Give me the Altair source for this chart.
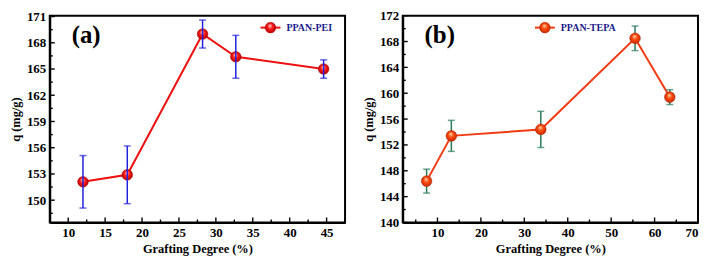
import altair as alt
import pandas as pd

# ---------------- data ----------------
a_gd = [12.0, 18.0, 28.2, 32.7, 44.6]
a_q = [152.1, 152.9, 169.0, 166.4, 165.0]
a_err = [3.0, 3.3, 1.6, 2.45, 1.05]

b_gd = [7.5, 13.2, 33.8, 55.5, 63.5]
b_q = [146.4, 153.4, 154.4, 168.5, 159.4]
b_err = [1.85, 2.4, 2.8, 1.9, 1.15]

series_names = ["PPAN-PEI", "PPAN-TEPA"]
panel_labels = ["(a)", "(b)"]

a_x_major = [10, 15, 20, 25, 30, 35, 40, 45]
a_x_minor = [7.5, 12.5, 17.5, 22.5, 27.5, 32.5, 37.5, 42.5, 47.5]
a_y_major = [150, 153, 156, 159, 162, 165, 168, 171]
a_y_minor = [148.5, 151.5, 154.5, 157.5, 160.5, 163.5, 166.5, 169.5]

b_x_major = [10, 20, 30, 40, 50, 60, 70]
b_x_minor = [5, 15, 25, 35, 45, 55, 65]
b_y_major = [140, 144, 148, 152, 156, 160, 164, 168, 172]
b_y_minor = [142, 146, 150, 154, 158, 162, 166, 170]

x_title = "Grafting Degree (%)"
y_title = "q (mg/g)"

FONT = "Liberation Serif"
W = 297
H = 208


def sphere(c_hi, c_mid, c_lo):
    return alt.Gradient(
        gradient="radial",
        stops=[
            alt.GradientStop(color=c_hi, offset=0),
            alt.GradientStop(color=c_mid, offset=0.45),
            alt.GradientStop(color=c_lo, offset=1),
        ],
        x1=0.45, y1=0.3, r1=0.0, x2=0.5, y2=0.5, r2=0.55,
    )


def panel(gd, q, err, xdom, ydom, xmaj, xmin, ymaj, ymin,
          line_col, grad, edge_col, err_col, err_on_top,
          name, label, leg_x, text_col):
    df = pd.DataFrame({"gd": gd, "q": q})
    df["lo"] = [v - e for v, e in zip(q, err)]
    df["hi"] = [v + e for v, e in zip(q, err)]

    xs = alt.Scale(domain=xdom, nice=False, zero=False)
    ys = alt.Scale(domain=ydom, nice=False, zero=False)
    xax = alt.Axis(values=xmaj, labelPadding=4, titlePadding=3,
                   labelFont=FONT, titleFont=FONT)
    yax = alt.Axis(values=ymaj, labelPadding=4, titlePadding=4,
                   labelFont=FONT, titleFont=FONT)

    def X(f):
        return alt.X(f, scale=xs, title=x_title, axis=xax)

    def Y(f):
        return alt.Y(f, scale=ys, title=y_title, axis=yax)

    base = alt.Chart(df)
    line = base.mark_line(color=line_col, strokeWidth=2).encode(
        x=X("gd:Q"), y=Y("q:Q"))
    pts = base.mark_circle(size=115, color=grad, opacity=1,
                           stroke=edge_col, strokeWidth=0.5).encode(
        x=X("gd:Q"), y=Y("q:Q"))
    ebar = base.mark_rule(color=err_col, strokeWidth=1.5).encode(
        x=X("gd:Q"), y=Y("lo:Q"), y2="hi:Q")
    cap_lo = base.mark_tick(color=err_col, orient="horizontal", size=7,
                            thickness=1.5).encode(x=X("gd:Q"), y=Y("lo:Q"))
    cap_hi = base.mark_tick(color=err_col, orient="horizontal", size=7,
                            thickness=1.5).encode(x=X("gd:Q"), y=Y("hi:Q"))
    errs = [ebar, cap_lo, cap_hi]

    # inward ticks
    def xticks(vals, length):
        return alt.Chart(pd.DataFrame({"gd": vals})).mark_rule(
            color="black", strokeWidth=1.4).encode(
            x=X("gd:Q"), y=alt.value(H), y2=alt.value(H - length))

    def yticks(vals, length):
        return alt.Chart(pd.DataFrame({"q": vals})).mark_rule(
            color="black", strokeWidth=1.4).encode(
            y=Y("q:Q"), x=alt.value(0), x2=alt.value(length))

    ticks = [xticks(xmaj, 5), xticks(xmin, 3), yticks(ymaj, 5), yticks(ymin, 3)]

    leg = pd.DataFrame({"name": [name], "label": [label]})
    lb = alt.Chart(leg)
    leg_line = lb.mark_rule(color=line_col, strokeWidth=2).encode(
        x=alt.value(leg_x), x2=alt.value(leg_x + 20), y=alt.value(12))
    leg_pt = lb.mark_circle(size=115, color=grad, opacity=1,
                            stroke=edge_col, strokeWidth=0.5).encode(
        x=alt.value(leg_x + 10), y=alt.value(12))
    leg_txt = lb.mark_text(font=FONT, fontWeight="bold", fontSize=10,
                           color=text_col, align="left", baseline="middle").encode(
        x=alt.value(leg_x + 26), y=alt.value(12.5), text="name:N")
    lab_txt = lb.mark_text(font=FONT, fontWeight="bold", fontSize=25,
                           color="black", align="left", baseline="middle").encode(
        x=alt.value(22), y=alt.value(19), text="label:N")

    layers = [line]
    if err_on_top:
        layers += [pts] + errs
    else:
        layers += errs + [pts]
    layers += ticks + [leg_line, leg_pt, leg_txt, lab_txt]
    return alt.layer(*layers).properties(width=W, height=H)


pa = panel(a_gd, a_q, a_err, [7.5, 47.5], [147.45, 171.1],
           a_x_major, a_x_minor, a_y_major, a_y_minor,
           "#ee1111", sphere("#ffe0e0", "#ff1a1a", "#b00000"), "#a00000",
           "#2222dd", True, series_names[0], panel_labels[0], W - 85, "#1a1a8c")

pb = panel(b_gd, b_q, b_err, [2, 70], [140, 172],
           b_x_major, b_x_minor, b_y_major, b_y_minor,
           "#f03a12", sphere("#ffe0b0", "#ff4a10", "#c02800"), "#b02000",
           "#2a7a5a", False, series_names[1], panel_labels[1], W - 164, "#1a1a8c")

chart = alt.hconcat(pa, pb, spacing=14, padding=0, background="white").configure_view(
    stroke="#000000", strokeWidth=2
).configure_axis(
    grid=False, domain=True, domainColor="#000000", domainWidth=2,
    ticks=False, tickSize=0,
    labelFont=FONT, labelFontWeight="bold", labelFontSize=13, labelColor="black",
    titleFont=FONT, titleFontWeight="bold", titleFontSize=12.5, titleColor="black",
)

chart.save("out.html", embed_options={"renderer": "svg", "actions": False})
